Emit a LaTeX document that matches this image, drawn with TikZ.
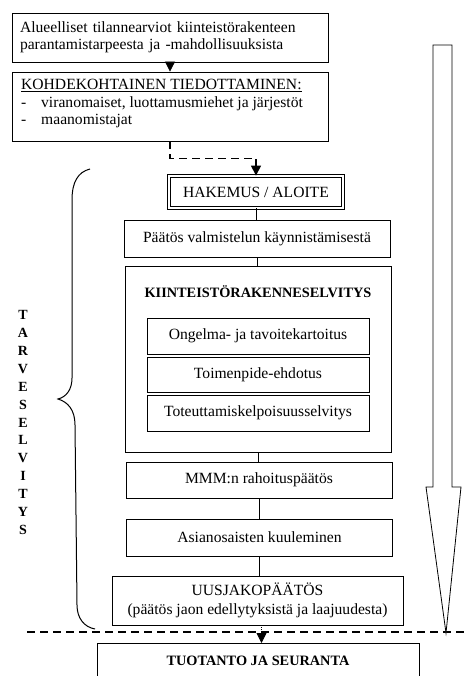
\documentclass[tikz,border=0pt]{standalone}
\usepackage{fontspec}
\setmainfont{Liberation Serif}
\usetikzlibrary{arrows.meta}
\newcommand\bodyfs{\fontsize{15.6}{17.5}\selectfont}
\newcommand\boldfs{\fontsize{14.3}{17}\selectfont\bfseries}
\begin{document}
\begin{tikzpicture}[x=1pt,y=-1pt,
  box/.style={draw,line width=0.8pt,inner sep=0pt,align=center,font=\bodyfs},
  conn/.style={line width=0.8pt},
  tip/.style={-{Triangle[width=10pt,length=10pt]}},
  dsh/.style={dash pattern=on 8pt off 5pt,line width=1.2pt}]
\clip (0,0) rectangle (464,676);
\fill[white] (0,0) rectangle (464,676);

% top boxes
\node[box,minimum width=316pt,minimum height=49pt,text width=300pt,align=left] (b1) at (170,37.5)
  {Alueelliset tilannearviot kiinteistörakenteen\\parantamistarpeesta ja -mahdollisuuksista};
\node[box,minimum width=316pt,minimum height=69pt] (b2) at (170,106.5) {};
\node[anchor=north west,inner sep=0pt,align=left,font=\bodyfs] (b2t) at (21,79)
  {\underline{KOHDEKOHTAINEN TIEDOTTAMINEN:}\\
   \makebox[20pt][l]{-}viranomaiset, luottamusmiehet ja järjestöt\\
   \makebox[20pt][l]{-}maanomistajat};
\draw[conn,tip] (b1.south) -- (b2.north);

% main column
\node[box,draw,double,double distance=2.4pt,line width=0.8pt,minimum width=174pt,minimum height=32pt] (hak) at (256,192) {HAKEMUS / ALOITE};
\draw[dsh,tip] (b2.south) -- ++(0,17) -| (hak.north);

\node[box,minimum width=266pt,minimum height=37pt] (pv) at (257,238.5) {Päätös valmistelun käynnistämisestä};
\node[box,minimum width=266pt,minimum height=186pt] (kr) at (258,359) {};
\node[font=\boldfs,inner sep=0pt] (krt) at (258,292) {KIINTEISTÖRAKENNESELVITYS};
\node[box,minimum width=222pt,minimum height=36pt] (o1) at (258,336) {Ongelma- ja tavoitekartoitus};
\node[box,minimum width=222pt,minimum height=35pt] (o2) at (258,374.5) {Toimenpide-ehdotus};
\node[box,minimum width=222pt,minimum height=36pt] (o3) at (258,413) {Toteuttamiskelpoisuusselvitys};
\node[box,minimum width=266pt,minimum height=36pt] (mmm) at (259,480) {MMM:n rahoituspäätös};
\node[box,minimum width=266pt,minimum height=37pt] (as) at (259.5,537.5) {Asianosaisten kuuleminen};
\node[box,minimum width=291pt,minimum height=49pt,font=\fontsize{15.6}{19.5}\selectfont] (uj) at (257.5,600.5)
  {UUSJAKOPÄÄTÖS\\(päätös jaon edellytyksistä ja laajuudesta)};
\node[box,minimum width=322pt,minimum height=60pt,anchor=north] (tt) at (258,643) {};
\node[font=\boldfs,inner sep=0pt] (ttt) at (258,661) {TUOTANTO JA SEURANTA};

\draw[conn] (hak.south) -- (hak.south |- pv.north);
\draw[conn] (pv.south) -- (pv.south |- kr.north);
\draw[conn] (kr.south) -- (kr.south |- mmm.north);
\draw[conn] (mmm.south) -- (mmm.south |- as.north);
\draw[conn] (as.south) -- (as.south |- uj.north);

% dashed separator
\draw[dsh] (27,632) -- (464,632);
\draw[conn,densely dotted,tip] ([xshift=4pt]uj.south) -- ([xshift=4pt]uj.south |- tt.north);

% big hollow arrow
\draw[line width=0.8pt,fill=white] (433,45) -- (452,45) -- (452,487) -- (461,487) -- (446,633) -- (426,487) -- (433,487) -- cycle;

% brace
\draw[line width=1pt] (90,169) .. controls (78,172) and (72,182) .. (72,200) -- (72,378)
  .. controls (72,390) and (66,397) .. (58,399)
  .. controls (68,402) and (75,410) .. (75,425) -- (77,605)
  .. controls (77,618) and (84,627) .. (95,629);

% vertical label
\node[font=\fontsize{14}{17.9}\selectfont\bfseries,align=center,inner sep=0pt] (tv) at (23,422.5)
  {T\\A\\R\\V\\E\\S\\E\\L\\V\\I\\T\\Y\\S};
\end{tikzpicture}
\end{document}
